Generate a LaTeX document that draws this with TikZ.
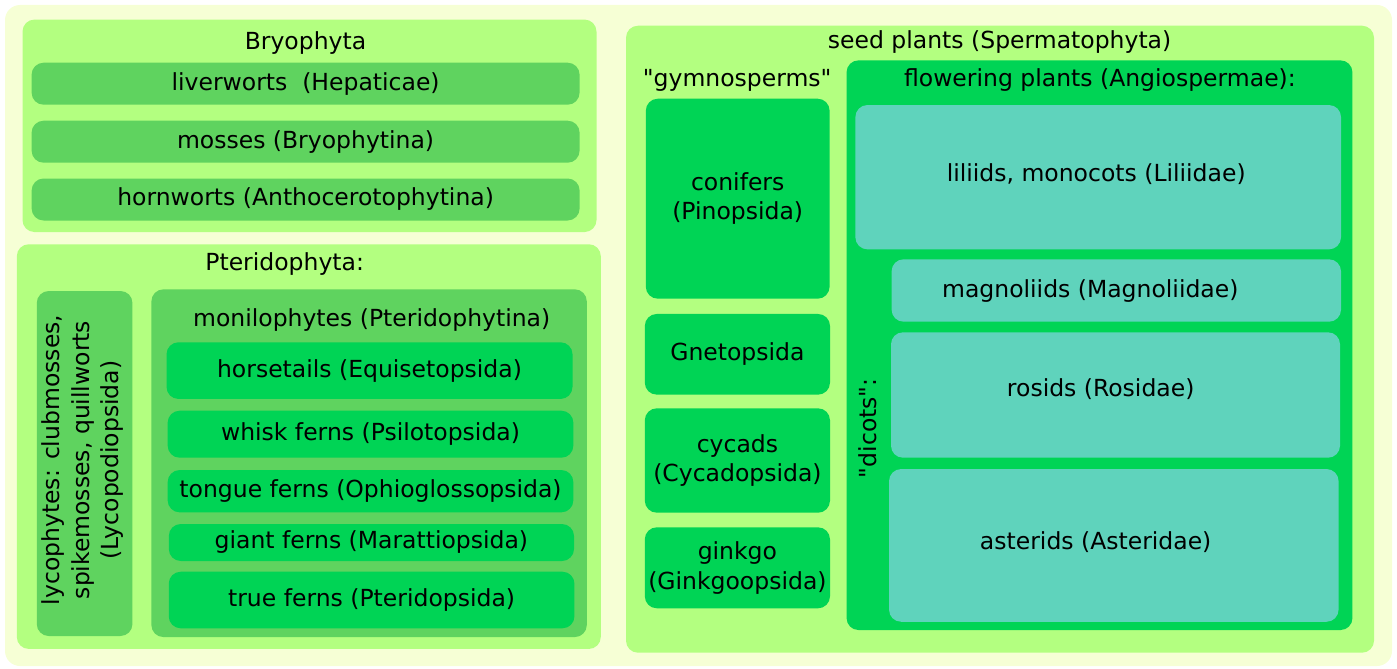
\documentclass[tikz,border=0pt]{standalone}
\usepackage{fontspec}
\setmainfont{DejaVu Sans}
\usetikzlibrary{positioning}
\definecolor{paleback}{HTML}{F6FFD5}
\definecolor{lightgreen}{HTML}{B3FF80}
\definecolor{midgreen}{HTML}{5FD35F}
\definecolor{brightgreen}{HTML}{00D455}
\definecolor{tealgreen}{HTML}{5FD3BC}
\begin{document}
\begin{tikzpicture}[x=1pt,y=-1pt,
  txt/.style={inner sep=0pt,align=center,font=\fontsize{23.5}{29.5}\selectfont},
  box/.style={txt,rounded corners=12pt,minimum width=#1},
  group/.style={box=#1,fill=lightgreen},
  sub/.style={box=#1,fill=midgreen},
  taxon/.style={box=#1,fill=brightgreen},
  clade/.style={box=#1,fill=tealgreen}]
\useasboundingbox (0,0) rectangle (1397,669);
\node[box=1387pt,minimum height=661pt,fill=paleback,rounded corners=15pt] (bg) at (698.5,335.5) {};
% mosses and relatives
\node[group=574pt,minimum height=212.5pt] (bryo) at (309.5,125.8) {};
\node[txt] (bryot) at (305.5,43.3) {Bryophyta};
\node[sub=548pt,minimum height=42pt] (liver) at (305.6,83.7) {liverworts\ \ (Hepaticae)};
\node[sub=548pt,minimum height=42pt] (moss) at (305.6,141.7) {mosses (Bryophytina)};
\node[sub=548pt,minimum height=42pt] (horn) at (305.6,199.5) {hornworts (Anthocerotophytina)};
% ferns and relatives
\node[group=584pt,minimum height=404.7pt] (pter) at (308.8,446.6) {};
\node[txt] (ptert) at (284.7,264.5) {Pteridophyta:};
\node[sub=95.7pt,minimum height=345pt] (lyco) at (84.6,463.5) {};
\node[txt,rotate=90] (lycot) at (83,460) {lycophytes: clubmosses,\\spikemosses, quillworts\\(Lycopodiopsida)};
\node[sub=435.4pt,minimum height=347.7pt] (moni) at (369.1,463.2) {};
\node[txt] (monit) at (371.7,320) {monilophytes (Pteridophytina)};
\node[taxon=406pt,minimum height=56.7pt] (horse) at (369.5,370.6) {horsetails (Equisetopsida)};
\node[taxon=405.7pt,minimum height=47pt] (whisk) at (370.5,434.2) {whisk ferns (Psilotopsida)};
\node[taxon=405.7pt,minimum height=42.3pt] (tongue) at (370.5,491.2) {tongue ferns (Ophioglossopsida)};
\node[taxon=405.2pt,minimum height=37pt] (giant) at (371.4,542.5) {giant ferns (Marattiopsida)};
\node[taxon=405.7pt,minimum height=56.6pt] (truef) at (371.6,600) {true ferns (Pteridopsida)};
% seed plants
\node[group=748pt,minimum height=627pt] (seed) at (1000,339.2) {};
\node[txt] (seedt) at (999.6,42.3) {seed plants (Spermatophyta)};
\node[txt] (gymt) at (737.2,80) {\textquotedbl gymnosperms\textquotedbl};
\node[taxon=183.8pt,minimum height=200pt] (conif) at (737.7,198.7) {conifers\\(Pinopsida)};
\node[taxon=185.2pt,minimum height=80.7pt] (gneto) at (737.4,354.3) {Gnetopsida};
\node[taxon=185.2pt,minimum height=104.4pt] (cycad) at (737.4,460.5) {cycads\\(Cycadopsida)};
\node[taxon=185.2pt,minimum height=81pt] (ginkgo) at (737.4,567.8) {ginkgo\\(Ginkgoopsida)};
\node[taxon=505.9pt,minimum height=569.7pt] (angio) at (1099.5,345.2) {};
\node[txt] (angiot) at (1099.9,80) {flowering plants (Angiospermae):};
\node[clade=485.6pt,minimum height=144.3pt] (lili) at (1098.2,177.2) {};
\node[txt] (lilit) at (1096.2,174) {liliids, monocots (Liliidae)};
\node[clade=449.4pt,minimum height=62.4pt] (magn) at (1116.3,290.5) {};
\node[txt] (magnt) at (1090.3,291) {magnoliids (Magnoliidae)};
\node[clade=449pt,minimum height=125.4pt] (rosid) at (1115.5,395) {};
\node[txt] (rosidt) at (1100.7,389.3) {rosids (Rosidae)};
\node[clade=449.5pt,minimum height=152.7pt] (aster) at (1113.8,545.4) {};
\node[txt] (astert) at (1095.7,542.3) {asterids (Asteridae)};
\node[txt,rotate=90] (dicot) at (867.8,428.3) {\textquotedbl dicots\textquotedbl:};
\end{tikzpicture}
\end{document}
